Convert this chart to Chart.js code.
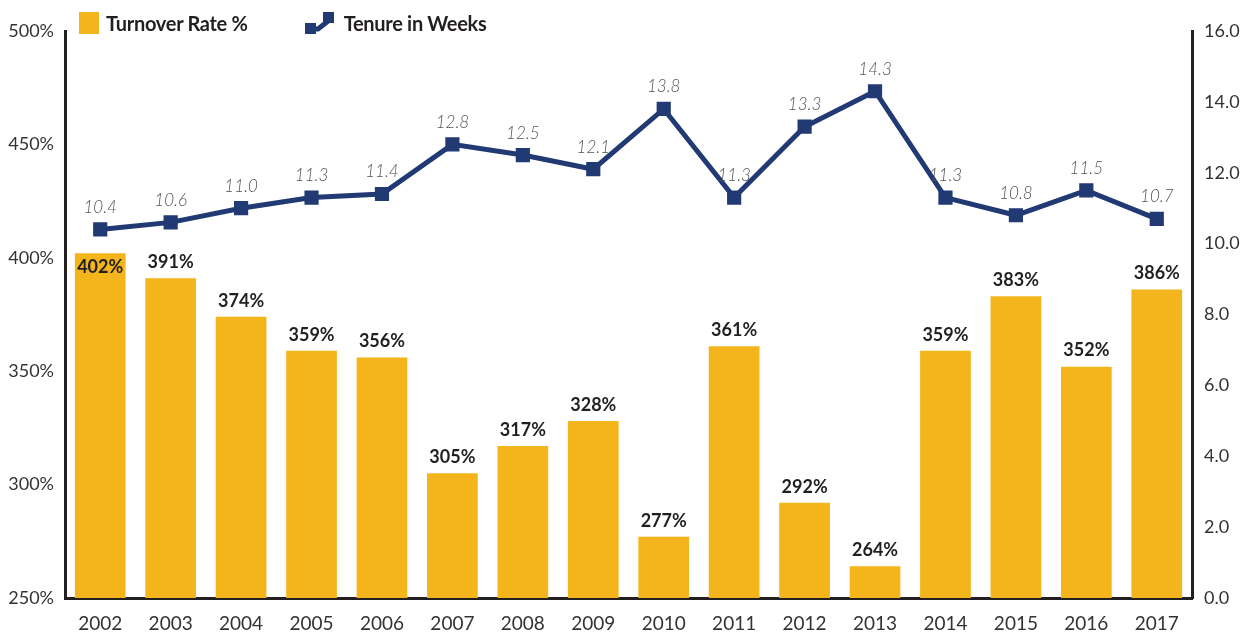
<!DOCTYPE html>
<html>
<head>
<meta charset="utf-8">
<script src="https://cdn.jsdelivr.net/npm/chart.js@4.4.0/dist/chart.umd.min.js"></script>
<style>
  html, body { margin: 0; padding: 0; background: #fff; }
  #wrap { position: relative; width: 1244px; height: 634px; }
  #legend { position: absolute; top: 11px; left: 79px; font-family: Lato, sans-serif; font-weight: bold;
            font-size: 20px; color: #231f20; display: flex; align-items: center; letter-spacing: -0.3px; }
  .item { display: flex; align-items: center; }
  .box { width: 20px; height: 22px; background: #f4b51c; margin-right: 7px; }
  svg { margin-right: 10px; }
</style>
</head>
<body>
<div id="wrap">
  <canvas id="chart" width="1244" height="634"></canvas>
  <div id="legend">
    <div class="item" style="margin-right:57px"><span class="box"></span>Turnover Rate %</div>
    <div class="item"><svg width="29" height="22"><path d="M2 17 L13 17 L27 6" stroke="#213a73" stroke-width="5" fill="none"/><rect x="0" y="11" width="11" height="11" fill="#213a73"/><rect x="18" y="0" width="11" height="11" fill="#213a73"/></svg>Tenure in Weeks</div>
  </div>
</div>
<script>
// data
const years = ['2002','2003','2004','2005','2006','2007','2008','2009','2010','2011','2012','2013','2014','2015','2016','2017']
const turnover = [402,391,374,359,356,305,317,328,277,361,292,264,359,383,352,386]
const tenure = [10.4,10.6,11.0,11.3,11.4,12.8,12.5,12.1,13.8,11.3,13.3,14.3,11.3,10.8,11.5,10.7]

const yellow = '#f4b51c'
const navy = '#213a73'
const ink = '#231f20'

// value labels over bars and points
const labelPlugin = {
  id: 'labels',
  afterDatasetsDraw(chart) {
    const ctx = chart.ctx
    ctx.save()
    ctx.textAlign = 'center'
    ctx.textBaseline = 'middle'
    // bars
    ctx.font = 'bold 18px Lato, sans-serif'
    ctx.fillStyle = ink
    chart.getDatasetMeta(0).data.forEach((bar, i) => {
      const v = turnover[i]
      const y = v >= 400 ? bar.y + 14 : bar.y - 16
      ctx.fillText(v + '%', bar.x, y)
    })
    // line points
    ctx.font = 'italic 300 17px Lato, sans-serif'
    ctx.fillStyle = '#555'
    chart.getDatasetMeta(1).data.forEach((pt, i) => {
      ctx.fillText(tenure[i].toFixed(1), pt.x, pt.y - 22)
    })
    ctx.restore()
  }
}

const tickFont = { family: 'Lato, sans-serif', size: 19 }

new Chart(document.getElementById('chart'), {
  data: {
    labels: years,
    datasets: [
      {
        type: 'bar', label: 'Turnover Rate %', data: turnover, yAxisID: 'y',
        backgroundColor: yellow, categoryPercentage: 1, barPercentage: 0.72, order: 1
      },
      {
        type: 'line', label: 'Tenure in Weeks', data: tenure, yAxisID: 'y1',
        borderColor: navy, backgroundColor: navy, borderWidth: 5,
        pointStyle: 'rect', pointRadius: 6.5, pointHoverRadius: 6.5, order: 0
      }
    ]
  },
  options: {
    responsive: false,
    animation: false,
    layout: { padding: { top: 31, left: 0, right: 0, bottom: 0 } },
    plugins: { legend: { display: false }, tooltip: { enabled: false } },
    scales: {
      x: {
        grid: { display: false },
        border: { display: true, color: ink, width: 3 },
        ticks: { font: tickFont, color: '#333', padding: 6, maxRotation: 0 },
        afterFit: s => { s.height = 36 }
      },
      y: {
        position: 'left', min: 250, max: 500,
        grid: { display: false },
        border: { display: true, color: ink, width: 3 },
        ticks: { stepSize: 50, font: { family: 'Lato, sans-serif', size: 18 }, color: '#333', padding: 3, callback: v => v + '%' },
        afterFit: s => { s.width = 65 }
      },
      y1: {
        position: 'right', min: 0, max: 16,
        grid: { display: false },
        border: { display: true, color: ink, width: 3 },
        ticks: { stepSize: 2, font: { family: 'Lato, sans-serif', size: 18 }, color: '#333', padding: 4, callback: v => v.toFixed(1) },
        afterFit: s => { s.width = 52 }
      }
    }
  },
  plugins: [labelPlugin]
})
</script>
</body>
</html>
